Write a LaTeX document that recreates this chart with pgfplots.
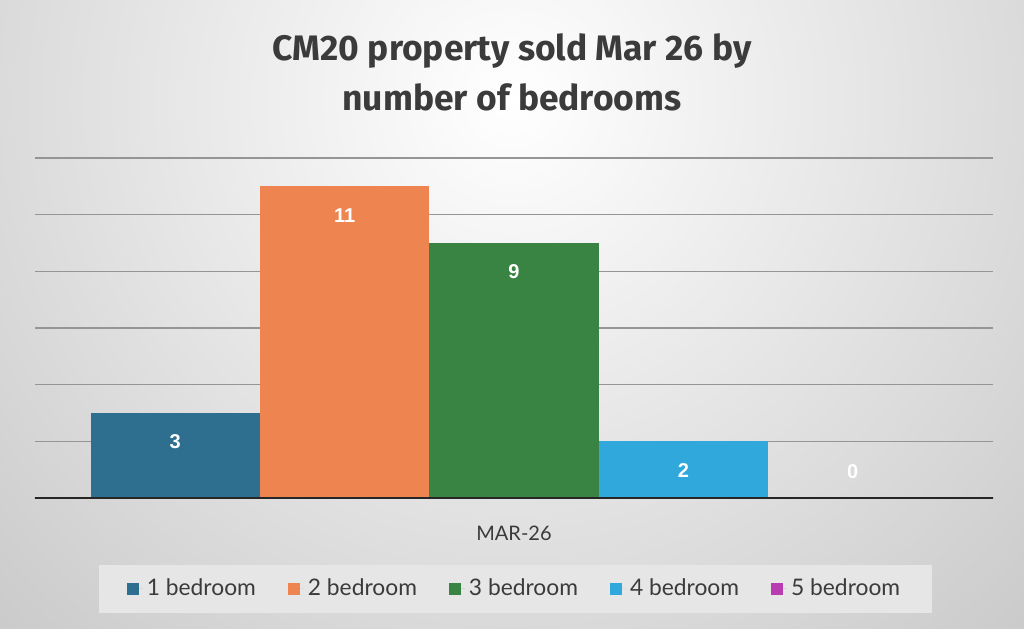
\documentclass[border=0pt]{standalone}
\usepackage{fontspec}
\setmainfont{Lato}
\newfontfamily\titlefont{Fira Sans}
\newfontfamily\labelfont{Liberation Sans}
\usepackage{pgfplots}
\pgfplotsset{compat=1.18}
\definecolor{c1}{HTML}{2E6F90}
\definecolor{c2}{HTML}{EE8550}
\definecolor{c3}{HTML}{3A8443}
\definecolor{c4}{HTML}{30A8DC}
\definecolor{c5}{HTML}{B83CB0}
\definecolor{gridc}{HTML}{959595}
\definecolor{titlec}{HTML}{3B3B3B}
\definecolor{bgouter}{HTML}{C6C6C6}
\definecolor{legc}{HTML}{E6E6E6}
\begin{document}
\begin{tikzpicture}
\begin{scope}
\clip (0,0) rectangle (512pt,314pt);
\fill[bgouter] (0,0) rectangle (512pt,314pt);
\shade[inner color=white, outer color=bgouter] (256pt,264pt) circle (400pt);
\end{scope}
\useasboundingbox (0,0) rectangle (512pt,314pt);
\node[align=center, text=titlec, font=\titlefont\bfseries\fontsize{17.7}{25}\selectfont] at (256pt,278pt) {CM20 property sold Mar 26 by\\number of bedrooms};
\begin{axis}[
  at={(17.5pt,65pt)}, anchor=south west,
  scale only axis, width=479pt, height=170pt,
  xmin=-0.5, xmax=0.5, ymin=0, ymax=12,
  ybar=0pt, bar width=84.7pt,
  axis line style={draw=none},
  ytick={2,4,...,12}, yticklabels={},
  ymajorgrids, grid style={gridc, line width=0.6pt},
  major tick length=0pt,
  xtick={0}, xticklabels={MAR-26},
  xticklabel style={anchor=center, yshift=-17.5pt, font=\fontsize{10}{12}\selectfont, text=titlec},
  /pgf/number format/assume math mode=true,
  nodes near coords,
  every node near coord/.append style={anchor=center, text=white, font=\labelfont\bfseries\fontsize{10}{12}\selectfont},
  legend columns=5,
  legend style={at={(0.5016,-0.2676)}, anchor=center, draw=none, fill=legc,
    font=\fontsize{11.4}{13}\selectfont, text=titlec,
    inner xsep=14pt, inner ysep=5.25pt,
    /tikz/every even column/.append style={column sep=14pt}},
  legend image code/.code={\fill[#1, draw=none] (0pt,-3pt) rectangle (6pt,3pt); \path (0pt,0pt) -- (8pt,0pt);},
]
\addplot[fill=c1, draw=none, every node near coord/.append style={yshift=-14.5pt}] coordinates {(0,3)};
\addplot[fill=c2, draw=none, every node near coord/.append style={yshift=-14.5pt}] coordinates {(0,11)};
\addplot[fill=c3, draw=none, every node near coord/.append style={yshift=-14.5pt}] coordinates {(0,9)};
\addplot[fill=c4, draw=none, every node near coord/.append style={yshift=-14.5pt}] coordinates {(0,2)};
\addplot[fill=c5, draw=none, every node near coord/.append style={yshift=13pt}] coordinates {(0,0)};
\legend{1 bedroom, 2 bedroom, 3 bedroom, 4 bedroom, 5 bedroom}
\draw[black!85, line width=1.1pt] ([yshift=-4pt]rel axis cs:0,0) -- (rel axis cs:0,0) -- (rel axis cs:1,0) -- ([yshift=-4pt]rel axis cs:1,0);
\end{axis}
\end{tikzpicture}
\end{document}
